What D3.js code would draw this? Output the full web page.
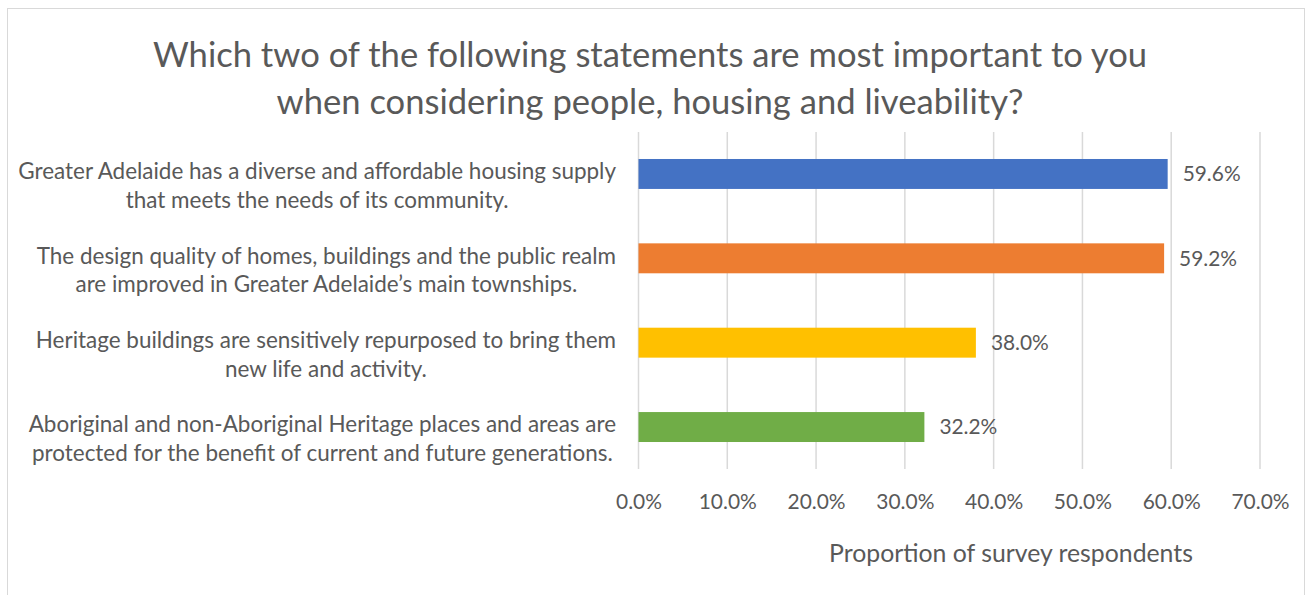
<!DOCTYPE html>
<html><head><meta charset="utf-8">
<script src="https://cdn.jsdelivr.net/npm/d3@7"></script>
<style>
html,body{margin:0;padding:0;background:#fff;}
svg text{font-family:Lato,"Open Sans",sans-serif;fill:#595959;}
</style></head>
<body>
<svg id="chart" width="1308" height="595"></svg>
<script>
const titleLines = ["Which two of the following statements are most important to you","when considering people, housing and liveability?"];
const categories = [
  ["Greater Adelaide has a diverse and affordable housing supply","that meets the needs of its community."],
  ["The design quality of homes, buildings and the public realm","are improved in Greater Adelaide\u2019s main townships."],
  ["Heritage buildings are sensitively repurposed to bring them","new life and activity."],
  ["Aboriginal and non-Aboriginal Heritage places and areas are","protected for the benefit of current and future generations."]
];
const values = [59.6, 59.2, 38.0, 32.2];
const colors = ["#4472C4","#ED7D31","#FFC000","#70AD47"];
const xTicks = [0,10,20,30,40,50,60,70];
const axisTitle = "Proportion of survey respondents";

const svg = d3.select("#chart");
// chart border
svg.append("rect").attr("x",7.5).attr("y",8.5).attr("width",1297).attr("height",600)
  .attr("fill","none").attr("stroke","#d9d9d9").attr("stroke-width",1);

const plot = {left:638.5, right:1260, top:132, bottom:469};
const x = d3.scaleLinear().domain([0,70]).range([plot.left, plot.right]);
const y = d3.scaleBand().domain(d3.range(categories.length)).range([plot.top, plot.bottom]).paddingInner(0.645).paddingOuter(0.32);

// gridlines
svg.append("g").selectAll("line").data(xTicks).join("line")
  .attr("x1",d=>x(d)).attr("x2",d=>x(d)).attr("y1",plot.top).attr("y2",plot.bottom)
  .attr("stroke","#d9d9d9").attr("stroke-width",1.5);

// axis tick labels
const xAxis = d3.axisBottom(x).tickValues(xTicks).tickFormat(d=>d.toFixed(1)+"%").tickSize(0).tickPadding(0);
const ax = svg.append("g").attr("transform",`translate(0,${plot.bottom})`).call(xAxis);
ax.select(".domain").remove();
ax.attr("font-family",null).attr("font-size",null);
ax.selectAll("text").attr("y",33).attr("dy","0.35em").attr("font-size",18).attr("fill","#595959");
{
  const node = ax.select("text").node(); const w = node.getComputedTextLength();
  ax.selectAll("text").attr("font-size",(18*46/w).toFixed(2));
}

// bars
svg.append("g").selectAll("rect").data(values).join("rect")
  .attr("x",x(0)).attr("y",(d,i)=>y(i)).attr("width",d=>x(d)-x(0)).attr("height",y.bandwidth())
  .attr("fill",(d,i)=>colors[i]);

// data labels
svg.append("g").selectAll("text").data(values).join("text")
  .attr("x",d=>x(d)+15).attr("y",(d,i)=>y(i)+y.bandwidth()/2).attr("dy","0.35em")
  .attr("font-size",18).text(d=>d.toFixed(1)+"%")
  .call(s=>{ const w=s.node().getComputedTextLength(); s.attr("font-size",(18*58/w).toFixed(2)); });

// category labels (lines centred within each block, block right-aligned)
const catG = svg.append("g");
const labelRight = 616;
const blocks = categories.map((lines,i)=>{
  const cy = y(i)+y.bandwidth()/2;
  return lines.map((t,j)=>catG.append("text").attr("y",cy-2.5+j*28.5).attr("dy","0.35em")
      .attr("text-anchor","middle").attr("font-size",19).text(t));
});
{
  const w = blocks[0][0].node().getComputedTextLength();
  catG.selectAll("text").attr("font-size",(19*598/w).toFixed(2));
  blocks.forEach(b=>{
    const maxW = d3.max(b, s=>s.node().getComputedTextLength());
    b.forEach(s=>s.attr("x", labelRight - maxW/2));
  });
}

// title
const tG = svg.append("g");
titleLines.forEach((t,j)=>{
  tG.append("text").attr("x",650).attr("y",[55,102][j]).attr("dy","0.35em")
    .attr("text-anchor","middle").attr("font-size",30).text(t);
});
{
  const w = tG.select("text").node().getComputedTextLength();
  tG.selectAll("text").attr("font-size",(30*994/w).toFixed(2));
}

// axis title
svg.append("text").attr("x",1011).attr("y",553).attr("dy","0.35em").attr("text-anchor","middle")
  .attr("font-size",20).text(axisTitle)
  .call(s=>{ const w=s.node().getComputedTextLength(); s.attr("font-size",(20*364/w).toFixed(2)); });
</script>
</body></html>
